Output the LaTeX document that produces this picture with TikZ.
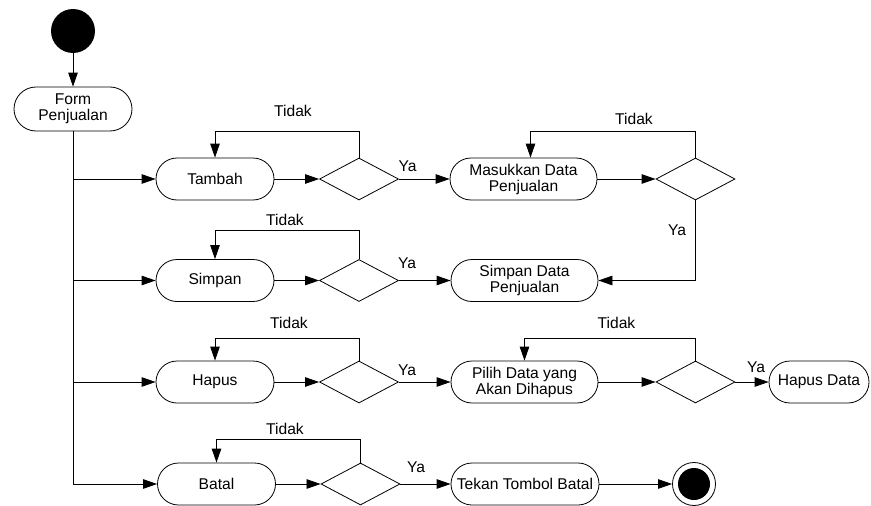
\documentclass[tikz,border=0pt]{standalone}
\usepackage{fontspec}
\setmainfont{Liberation Sans}
\usetikzlibrary{shapes.geometric,arrows.meta}
\begin{document}
\begin{tikzpicture}[x=1pt,y=-1pt,
  every node/.style={font=\fontsize{15.6}{16}\selectfont},
  act/.style={draw, line width=0.8pt, rounded corners=21pt, minimum height=42pt, inner sep=0pt, align=center},
  dec/.style={draw, diamond, line width=0.8pt, minimum width=79pt, minimum height=42pt, inner sep=0pt},
  flow/.style={line width=0.8pt, -{Triangle[length=14pt,width=9.5pt]}},
  lbl/.style={inner sep=0pt}]
\useasboundingbox (0,0) rectangle (871,506);

% start / end
\node[circle, fill=black, minimum size=44pt, inner sep=0pt] (start) at (73,31) {};
\node[act, minimum width=118pt, minimum height=44pt, rounded corners=22pt] (form) at (73,109) {Form\\Penjualan};

% row 1
\node[act, minimum width=118pt] (tambah) at (215,179) {Tambah};
\node[dec] (d1) at (359,179) {};
\node[act, minimum width=147pt] (masuk) at (523.5,179) {Masukkan Data\\Penjualan};
\node[dec] (d2) at (695.5,179) {};

% row 2
\node[act, minimum width=118pt] (simpan) at (215,280.5) {Simpan};
\node[dec] (d3) at (359,280.5) {};
\node[act, minimum width=147pt] (simdata) at (524.5,280.5) {Simpan Data\\Penjualan};

% row 3
\node[act, minimum width=118pt] (hapus) at (215,382) {Hapus};
\node[dec] (d4) at (359,382) {};
\node[act, minimum width=147pt] (pilih) at (524.5,382) {Pilih Data yang\\Akan Dihapus};
\node[dec] (d5) at (695.5,382) {};
\node[act, minimum width=100pt] (hapusdata) at (819,382) {Hapus Data};

% row 4
\node[act, minimum width=118pt] (batal) at (216.5,484) {Batal};
\node[dec] (d6) at (360.5,484) {};
\node[act, minimum width=148pt] (tekan) at (525,484) {Tekan Tombol Batal};
\node[circle, draw, line width=0.8pt, minimum size=43pt, inner sep=0pt] (end) at (694,484) {};
\fill (end.center) circle (16pt);

% main flow
\draw[flow] (start) -- (form);
\draw[flow] (form.south) |- (batal.west);
\draw[flow] (form.south |- tambah.west) -- (tambah.west);
\draw[flow] (form.south |- simpan.west) -- (simpan.west);
\draw[flow] (form.south |- hapus.west) -- (hapus.west);

% row 1
\draw[flow] (tambah) -- (d1);
\draw[flow] (d1) -- (masuk);
\draw[flow] (masuk) -- (d2);
\draw[flow] (d1.north) -- ++(0,-26) -| (tambah.north);
\draw[flow] (d2.north) -- ++(0,-26) -| ([xshift=7pt]masuk.north);
\draw[flow] (d2.south) |- (simdata.east);

% row 2
\draw[flow] (simpan) -- (d3);
\draw[flow] (d3) -- (simdata);
\draw[flow] (d3.north) -- ++(0,-29) -| (simpan.north);

% row 3
\draw[flow] (hapus) -- (d4);
\draw[flow] (d4) -- (pilih);
\draw[flow] (pilih) -- (d5);
\draw[flow] (d5) -- (hapusdata);
\draw[flow] (d4.north) -- ++(0,-22) -| (hapus.north);
\draw[flow] (d5.north) -- ++(0,-22) -| (pilih.north);

% row 4
\draw[flow] (batal) -- (d6);
\draw[flow] (d6) -- (tekan);
\draw[flow] (tekan) -- (end);
\draw[flow] (d6.north) -- ++(0,-23) -| (batal.north);

% labels
\node[lbl] (t1) at (293,111) {Tidak};
\node[lbl] (y1) at (407.5,166) {Ya};
\node[lbl] (t2) at (634,119) {Tidak};
\node[lbl] (y2) at (677,230) {Ya};
\node[lbl] (t3) at (285,220) {Tidak};
\node[lbl] (y3) at (407,263) {Ya};
\node[lbl] (t4) at (289,323) {Tidak};
\node[lbl] (y4) at (407,370) {Ya};
\node[lbl] (t5) at (616.5,323) {Tidak};
\node[lbl] (y5) at (756,367) {Ya};
\node[lbl] (t6) at (285,429) {Tidak};
\node[lbl] (y6) at (416,467) {Ya};
\end{tikzpicture}
\end{document}
